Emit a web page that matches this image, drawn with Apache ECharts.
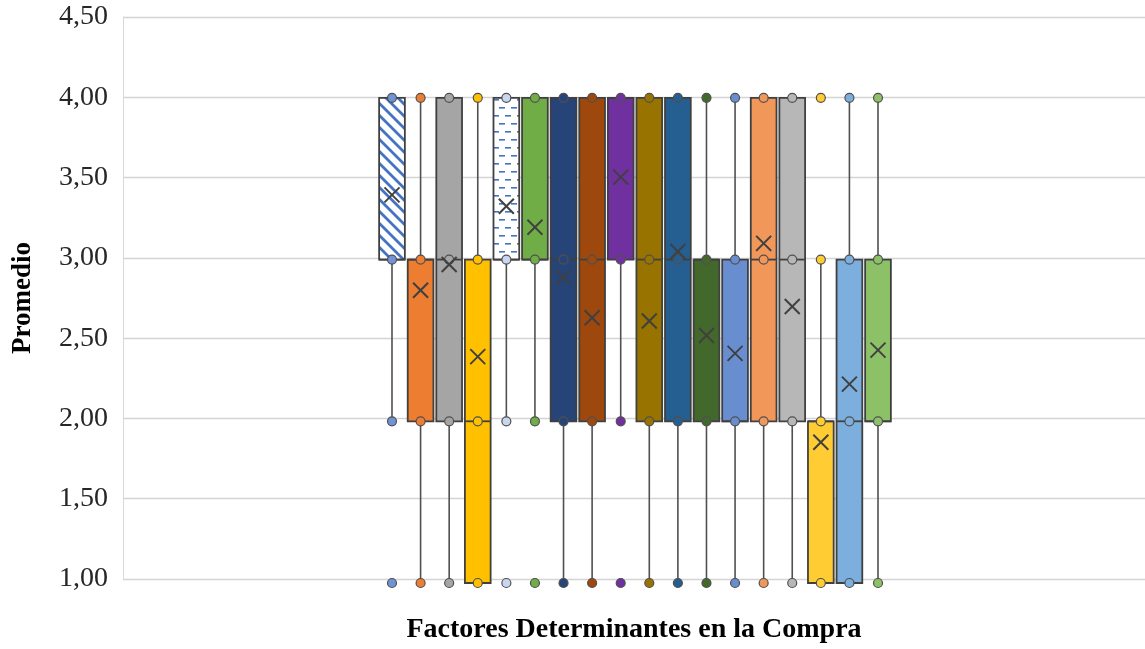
<!DOCTYPE html>
<html>
<head>
<meta charset="utf-8">
<script src="https://cdn.jsdelivr.net/npm/echarts@6/dist/echarts.min.js"></script>
<style>
  html, body { margin: 0; padding: 0; background: #ffffff; }
  #chart { width: 1145px; height: 649px; }
</style>
</head>
<body>
<div id="chart"></div>
<script>
// Eighteen purchase factors, one box-and-whisker each (Likert scale 1–4)
const factors = [
  'Factor 1', 'Factor 2', 'Factor 3', 'Factor 4', 'Factor 5', 'Factor 6',
  'Factor 7', 'Factor 8', 'Factor 9', 'Factor 10', 'Factor 11', 'Factor 12',
  'Factor 13', 'Factor 14', 'Factor 15', 'Factor 16', 'Factor 17', 'Factor 18'
];
const whiskerLow  = [2, 1, 1, 1, 2, 2, 1, 1, 2, 1, 1, 1, 1, 1, 1, 1, 1, 1];
const quartile1   = [3, 2, 2, 1, 3, 3, 2, 2, 3, 2, 2, 2, 2, 2, 2, 1, 1, 2];
const medians     = [3, 3, 3, 2, 3, 3, 3, 3, 4, 3, 3, 3, 2, 3, 3, 2, 2, 2];
const quartile3   = [4, 3, 4, 3, 4, 4, 4, 4, 4, 4, 4, 3, 3, 4, 4, 2, 3, 3];
const whiskerHigh = [4, 4, 4, 4, 4, 4, 4, 4, 4, 4, 4, 4, 4, 4, 4, 3, 4, 4];
const means = [3.40, 2.81, 2.97, 2.40, 3.33, 3.20, 2.89, 2.64, 3.51,
               2.62, 3.05, 2.53, 2.42, 3.10, 2.71, 1.87, 2.23, 2.44];
// Observed answer values shown as points for each factor
const pointValues = [
  [1, 2, 3, 4], [1, 2, 3, 4], [1, 2, 3, 4], [1, 2, 3, 4], [1, 2, 3, 4], [1, 2, 3, 4],
  [1, 2, 3, 4], [1, 2, 3, 4], [1, 2, 3, 4], [1, 2, 3, 4], [1, 2, 3, 4], [1, 2, 3, 4],
  [1, 2, 3, 4], [1, 2, 3, 4], [1, 2, 3, 4], [1, 2, 3, 4], [1, 2, 3, 4], [1, 2, 3, 4]
];
const yMin = 1, yMax = 4.5, yStep = 0.5;

// Fill patterns
function stripePattern() {
  const s = 12, c = document.createElement('canvas');
  c.width = s; c.height = s;
  const g = c.getContext('2d');
  g.fillStyle = '#ffffff'; g.fillRect(0, 0, s, s);
  g.strokeStyle = '#4472C4'; g.lineWidth = 2.8;
  g.beginPath();
  g.moveTo(-2, -2); g.lineTo(s + 2, s + 2);
  g.moveTo(-2 - s, -2); g.lineTo(2, s + 2);
  g.moveTo(s - 2, -2); g.lineTo(2 * s + 2, s + 2);
  g.stroke();
  return { image: c, repeat: 'repeat' };
}
function dashPattern() {
  const w = 12, h = 16, c = document.createElement('canvas');
  c.width = w; c.height = h;
  const g = c.getContext('2d');
  g.fillStyle = '#ffffff'; g.fillRect(0, 0, w, h);
  g.fillStyle = '#4472C4';
  g.fillRect(1, 3, 6, 1.6);
  g.fillRect(7, 11, 5, 1.6);
  g.fillRect(0, 11, 1, 1.6);
  return { image: c, repeat: 'repeat' };
}

const fills = [
  stripePattern(), '#ED7D31', '#A5A5A5', '#FFC000', dashPattern(), '#70AD47',
  '#264478', '#9E480E', '#7030A0', '#997300', '#255E91', '#43682B',
  '#698ED0', '#F1975A', '#B7B7B7', '#FFCD33', '#7CAFDD', '#8CC168'
];
// Point colours (patterned boxes use a plain tone for their small markers)
const pointColors = fills.map((f, i) => (i === 0 ? '#6F93D4' : i === 4 ? '#C9D6EF' : f));

const boxData = factors.map((f, i) =>
  [i, whiskerLow[i], quartile1[i], medians[i], quartile3[i], whiskerHigh[i]]);
const meanData = factors.map((f, i) => [i, means[i]]);
const pointData = [];
pointValues.forEach((vals, i) => {
  vals.forEach(v => pointData.push({ value: [i, v], itemStyle: { color: pointColors[i] } }));
});

const edge = '#404040';

function renderBox(params, api) {
  const i = params.dataIndex;
  const x = api.value(0);
  const wl = api.coord([x, api.value(1)]);
  const q1 = api.coord([x, api.value(2)]);
  const md = api.coord([x, api.value(3)]);
  const q3 = api.coord([x, api.value(4)]);
  const wh = api.coord([x, api.value(5)]);
  const bw = api.size([1, 0])[0] * 0.9;
  const cx = q1[0];
  const line = { stroke: '#505050', lineWidth: 1.6 };
  return {
    type: 'group',
    children: [
      { type: 'line', shape: { x1: cx, y1: q1[1], x2: cx, y2: wl[1] }, style: line },
      { type: 'line', shape: { x1: cx, y1: q3[1], x2: cx, y2: wh[1] }, style: line },
      { type: 'rect', shape: { x: cx - bw / 2, y: q3[1], width: bw, height: q1[1] - q3[1] },
        style: { fill: fills[i], stroke: edge, lineWidth: 1.8 } },
      { type: 'line', shape: { x1: cx - bw / 2, y1: md[1], x2: cx + bw / 2, y2: md[1] },
        style: { stroke: edge, lineWidth: 1.8 } }
    ]
  };
}

function renderMean(params, api) {
  const p = api.coord([api.value(0), api.value(1)]);
  const h = 7.5;
  const st = { stroke: '#404040', lineWidth: 2 };
  return {
    type: 'group',
    children: [
      { type: 'line', shape: { x1: p[0] - h, y1: p[1] - h, x2: p[0] + h, y2: p[1] + h }, style: st },
      { type: 'line', shape: { x1: p[0] - h, y1: p[1] + h, x2: p[0] + h, y2: p[1] - h }, style: st }
    ]
  };
}

const serif = '"Liberation Serif", "Times New Roman", serif';
const chart = echarts.init(document.getElementById('chart'), null, { renderer: 'canvas' });
chart.setOption({
  animation: false,
  backgroundColor: '#ffffff',
  grid: [
    { left: 123, right: 0, top: 17, bottom: 66 },
    { left: 377.7, right: 252.7, top: 17, bottom: 66 }
  ],
  xAxis: [
    {
      gridIndex: 0, type: 'value', min: 0, max: 1,
      axisLine: { show: false }, axisTick: { show: false },
      axisLabel: { show: false }, splitLine: { show: false },
      name: 'Factores Determinantes en la Compra',
      nameLocation: 'middle', nameGap: 37,
      nameTextStyle: { fontFamily: serif, fontWeight: 'bold', fontSize: 28, color: '#000000' }
    },
    {
      gridIndex: 1, type: 'category', data: factors, show: false
    }
  ],
  yAxis: [
    {
      gridIndex: 0, type: 'value', min: yMin, max: yMax, interval: yStep,
      axisLine: { show: true, lineStyle: { color: '#D9D9D9', width: 1 } },
      axisTick: { show: false },
      splitLine: { lineStyle: { color: '#D4D4D4', width: 1.3 } },
      axisLabel: {
        margin: 15, fontFamily: serif, fontSize: 28, color: '#262626',
        formatter: v => v.toFixed(2).replace('.', ',')
      },
      name: 'Promedio', nameLocation: 'middle', nameGap: 86,
      nameTextStyle: { fontFamily: serif, fontWeight: 'bold', fontSize: 27, color: '#000000' }
    },
    { gridIndex: 1, type: 'value', min: yMin, max: yMax, interval: yStep, show: false }
  ],
  series: [
    {
      type: 'custom', name: 'Cajas', xAxisIndex: 1, yAxisIndex: 1,
      renderItem: renderBox, data: boxData,
      encode: { x: 0, y: [1, 2, 3, 4, 5] }, z: 2
    },
    {
      type: 'scatter', name: 'Puntos', xAxisIndex: 1, yAxisIndex: 1,
      symbol: 'circle', symbolSize: 9,
      itemStyle: { borderColor: '#505050', borderWidth: 1.2, opacity: 1 },
      data: pointData, z: 3
    },
    {
      type: 'custom', name: 'Media', xAxisIndex: 1, yAxisIndex: 1,
      renderItem: renderMean, data: meanData,
      encode: { x: 0, y: 1 }, z: 4
    }
  ]
});
</script>
</body>
</html>
